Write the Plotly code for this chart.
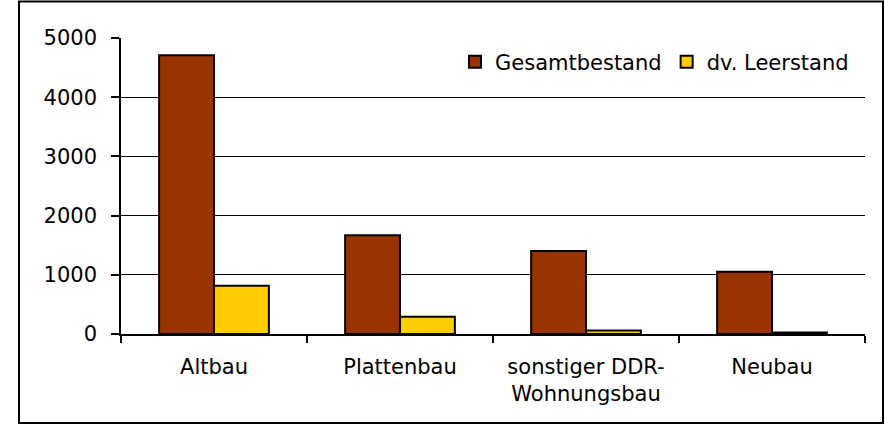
import plotly.graph_objects as go

categories = ["Altbau", "Plattenbau", "sonstiger DDR-<br>Wohnungsbau", "Neubau"]
gesamtbestand = [4710, 1670, 1400, 1050]
leerstand = [815, 290, 60, 25]
y_ticks = [0, 1000, 2000, 3000, 4000, 5000]

W, H = 885, 425
L, R, T, B = 121, 20, 38, 91
pw, ph = W - L - R, H - T - B

FONT = dict(family="DejaVu Sans", size=21, color="black")

fig = go.Figure()
fig.add_trace(go.Bar(name="Gesamtbestand", x=categories, y=gesamtbestand,
                     marker=dict(color="#993300", line=dict(color="black", width=2))))
fig.add_trace(go.Bar(name="dv. Leerstand", x=categories, y=leerstand,
                     marker=dict(color="#FFCC00", line=dict(color="black", width=2))))

def px_x(p):
    return (p - L) / pw

def px_y(p):
    return (H - B - p) / ph

fig.add_shape(type="rect", xref="paper", yref="paper",
              x0=px_x(19), x1=px_x(883), y0=px_y(423), y1=px_y(1.5),
              line=dict(color="black", width=2), fillcolor="rgba(0,0,0,0)", layer="below")

fig.update_layout(
    width=W, height=H,
    margin=dict(l=L, r=R, t=T, b=B),
    paper_bgcolor="white", plot_bgcolor="white",
    font=FONT,
    barmode="group", bargap=0.41, bargroupgap=0,
    showlegend=True,
    legend=dict(orientation="h", x=px_x(854), xanchor="right", y=px_y(62), yanchor="middle",
                bgcolor="rgba(0,0,0,0)", font=FONT, traceorder="normal",
                itemwidth=30, tracegroupgap=0),
    xaxis=dict(type="category", showline=True, linecolor="black", linewidth=1.5,
               ticks="outside", tickson="boundaries", ticklen=7, tickcolor="black", tickwidth=1.5,
               showgrid=False, tickfont=FONT, ticklabelstandoff=13),
    yaxis=dict(range=[0, 5000], tickvals=y_ticks, showline=True, linecolor="black", linewidth=1.5,
               ticks="outside", ticklen=8, tickcolor="black", tickwidth=1.5,
               showgrid=True, gridcolor="black", gridwidth=1.2, zeroline=False,
               tickfont=FONT, ticklabelstandoff=10, fixedrange=True),
)

fig.write_html("out.html", config={"displayModeBar": False},
               post_script="document.body.style.margin='0px';document.body.style.overflow='hidden';")
